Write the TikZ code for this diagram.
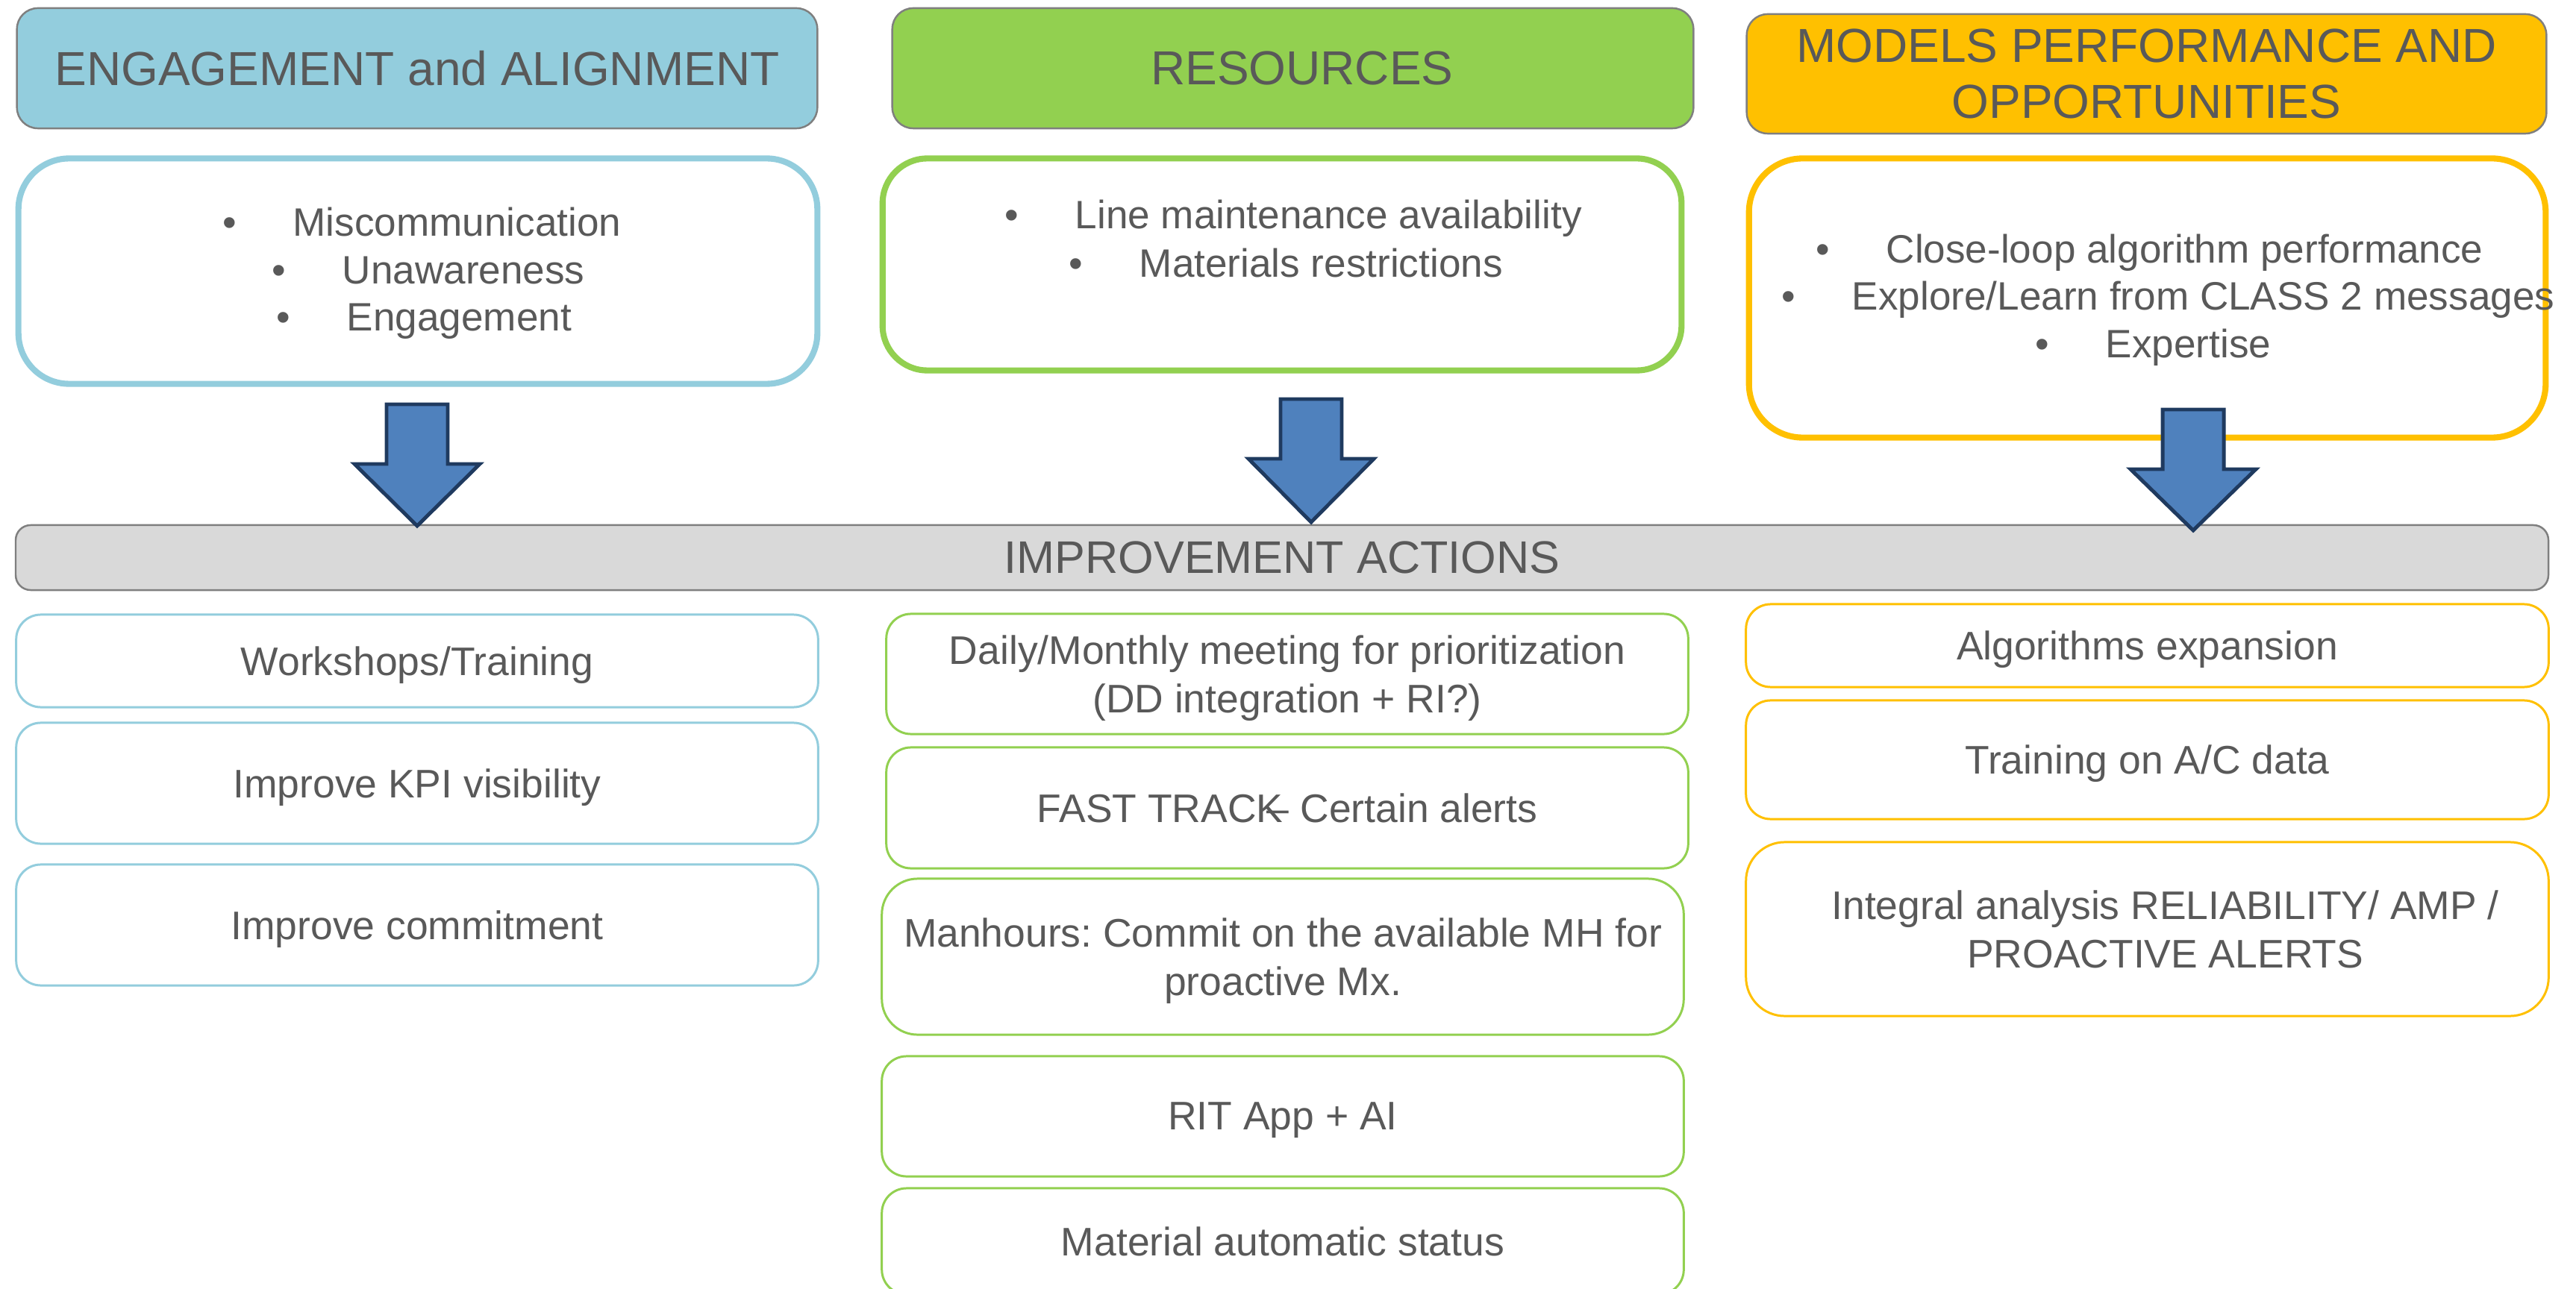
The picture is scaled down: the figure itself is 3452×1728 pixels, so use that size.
\documentclass[tikz,border=0pt]{standalone}
\usepackage{fontspec}
\setmainfont{Liberation Sans}
\frenchspacing
\definecolor{txt}{HTML}{595959}
\definecolor{cblue}{HTML}{93CDDD}
\definecolor{cgreen}{HTML}{92D050}
\definecolor{cgold}{HTML}{FFC000}
\definecolor{hdrline}{HTML}{7F7F7F}
\definecolor{barfill}{HTML}{D9D9D9}
\definecolor{arrfill}{HTML}{4F81BD}
\definecolor{arrline}{HTML}{1F3A5F}
\newcommand\hdrfont{\fontsize{18.2pt}{21.3pt}\selectfont}
\newcommand\bulfont{\fontsize{15.1pt}{18.3pt}\selectfont}
\newcommand\actfont{\fontsize{15.2pt}{18.4pt}\selectfont}
\newcommand\barfont{\fontsize{17.4pt}{20pt}\selectfont}
\newcommand\bul{\makebox[26.75pt][l]{•}}
\newcommand\blockarrow[4]{%
  \draw[bigarrow] (#1-41,#2) -- (#1+41,#2) -- (#1+41,#3) -- (#1+84,#3) -- (#1,#4) -- (#1-84,#3) -- (#1-41,#3) -- cycle;}
\tikzset{
  hdr/.style={draw=hdrline, line width=0.7pt, rounded corners=0.28cm, align=center, font=\hdrfont, text=txt, inner sep=0pt},
  bigbox/.style={fill=white, line width=2.3pt, inner sep=0pt},
  bl/.style={anchor=base west, inner sep=0pt, font=\bulfont, text=txt},
  act/.style={fill=white, line width=0.85pt, rounded corners=0.33cm, align=center, font=\actfont, text=txt, inner sep=0pt, text depth=0pt},
  bigarrow/.style={fill=arrfill, draw=arrline, line width=1.4pt, line join=miter},
}
\begin{document}
\begin{tikzpicture}[x=0.01cm,y=-0.01cm]
\useasboundingbox (0,0) rectangle (3452,1728);
\fill[white] (0,0) rectangle (3452,1728);
\clip (0,0) rectangle (3452,1728);

% headers
\node[hdr, fill=cblue, minimum width=10.72cm, minimum height=1.61cm] (h1) at (559,91.5) {ENGAGEMENT and ALIGNMENT};
\node[hdr, fill=cgreen, minimum width=10.73cm, minimum height=1.61cm] (h2) at (1732.5,91.5) {\hspace*{7pt}RESOURCES};
\node[hdr, fill=cgold, minimum width=10.71cm, minimum height=1.60cm] (h3) at (2876.5,99) {MODELS PERFORMANCE AND\\OPPORTUNITIES};

% big boxes
\node[bigbox, draw=cblue, minimum width=10.70cm, minimum height=3.02cm, rounded corners=0.68cm] (b1) at (560,363.5) {};
\node[bigbox, draw=cgreen, minimum width=10.70cm, minimum height=2.84cm, rounded corners=0.6cm] (b2) at (1718,354.5) {};
\node[bigbox, draw=cgold, minimum width=10.67cm, minimum height=3.74cm, rounded corners=0.72cm] (b3) at (2877.5,399.5) {};

% bullet lines
\node[bl] (t11) at (298,317) {\bul Miscommunication};
\node[bl] (t12) at (364,381) {\bul Unawareness};
\node[bl] (t13) at (370,444) {\bul Engagement};
\node[bl] (t21) at (1346,307) {\bul Line maintenance availability};
\node[bl] (t22) at (1432,372) {\bul Materials restrictions};
\node[bl] (t31) at (2433,353) {\bul Close-loop algorithm performance};
\node[bl] (t32) at (2387,416) {\bul Explore/Learn from CLASS 2 messages};
\node[bl] (t33) at (2727,480) {\bul Expertise};

% improvement bar
\node[draw=hdrline, fill=barfill, line width=0.7pt, rounded corners=0.2cm, minimum width=33.92cm, minimum height=0.87cm, inner sep=0pt, font=\barfont, text=txt] (bar) at (1718,747.5) {IMPROVEMENT ACTIONS};

% block arrows
\blockarrow{559}{542}{622}{705}
\blockarrow{1757}{535}{615}{700}
\blockarrow{2939}{549}{629}{711}

% left column actions
\node[act, draw=cblue, minimum width=10.74cm, minimum height=1.24cm] (l1) at (559,886) {Workshops/Training};
\node[act, draw=cblue, minimum width=10.74cm, minimum height=1.62cm] (l2) at (559,1050) {Improve KPI visibility};
\node[act, draw=cblue, minimum width=10.74cm, minimum height=1.62cm] (l3) at (559,1240) {Improve commitment};

% middle column actions
\node[act, draw=cgreen, minimum width=10.74cm, minimum height=1.61cm] (m1) at (1725,903.5) {Daily/Monthly meeting for prioritization\\(DD integration + RI?)};
\node[act, draw=cgreen, minimum width=10.74cm, minimum height=1.62cm] (m2) at (1725,1083) {FAST TRACK\kern-0.4em–\ Certain alerts};
\node[act, draw=cgreen, minimum width=10.74cm, minimum height=2.09cm, rounded corners=0.48cm] (m3) at (1719,1282.5) {Manhours: Commit on the available MH for\\proactive Mx.};
\node[act, draw=cgreen, minimum width=10.74cm, minimum height=1.61cm] (m4) at (1719,1496.5) {RIT App + AI};
\node[act, draw=cgreen, minimum width=10.74cm, minimum height=1.42cm] (m5) at (1719,1664) {Material automatic status};

% right column actions
\node[act, draw=cgold, minimum width=10.75cm, minimum height=1.11cm] (r1) at (2877.5,865.5) {Algorithms expansion};
\node[act, draw=cgold, minimum width=10.75cm, minimum height=1.59cm] (r2) at (2877.5,1018.5) {Training on A/C data};
\node[act, draw=cgold, minimum width=10.75cm, minimum height=2.33cm, rounded corners=0.52cm] (r3) at (2877.5,1245.5) {\hspace*{13.7pt}Integral analysis RELIABILITY/ AMP /\\\hspace*{13.7pt}PROACTIVE ALERTS};
\end{tikzpicture}
\end{document}
